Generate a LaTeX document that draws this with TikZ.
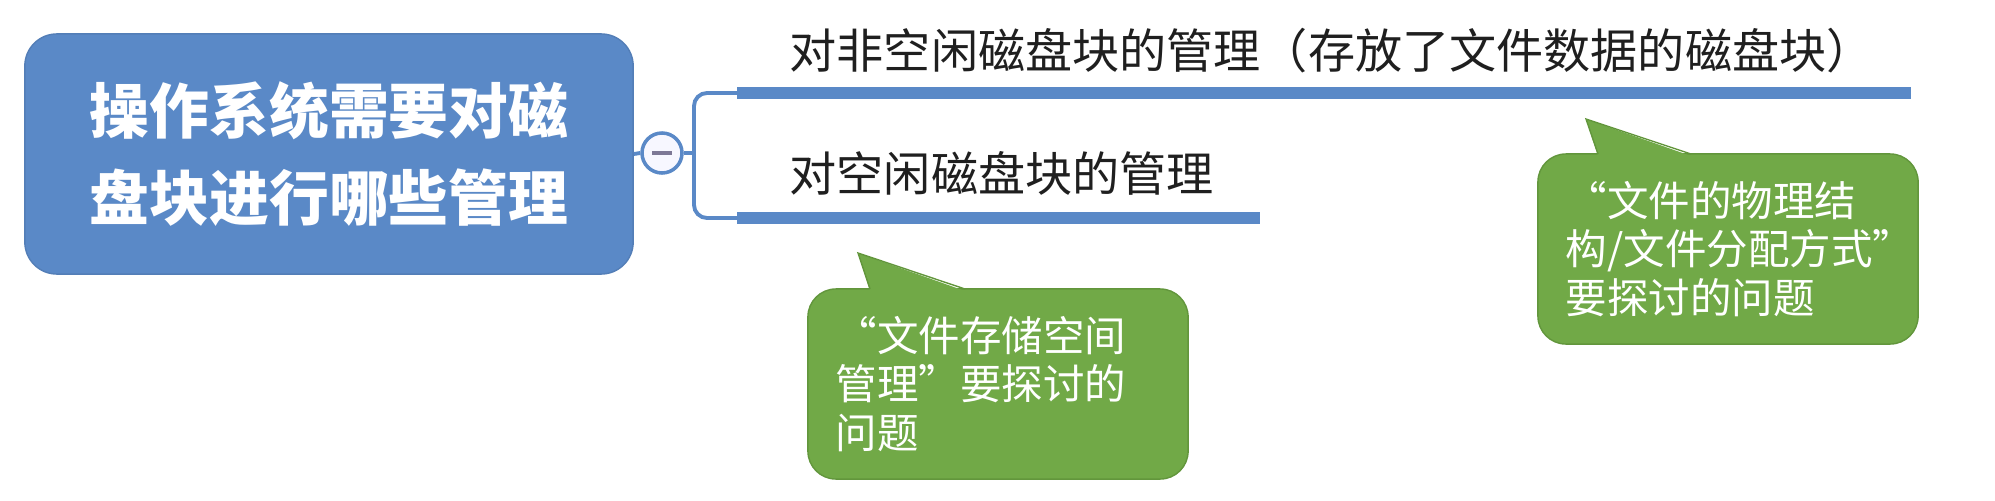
\documentclass[tikz,border=0pt]{standalone}
\usepackage{fontspec}
\setmainfont{Noto Sans CJK SC}
\usepackage{xcolor}
\usepackage{tikz}
\usetikzlibrary{calc, positioning}

\definecolor{mapblue}{RGB}{90,137,199}
\definecolor{notegreen}{RGB}{113,169,71}
\definecolor{noteedge}{RGB}{98,150,60}
\definecolor{foldgray}{RGB}{125,120,150}

\tikzset{
    rootbox/.style={fill=mapblue, draw=mapblue!92!black, rounded corners=0.32cm,
        text=white, align=center, minimum width=6.08cm, minimum height=2.4cm,
        font=\fontsize{17}{24.5}\selectfont\bfseries},
    foldmark/.style={circle, draw=mapblue, line width=1pt, fill=blue!3,
        minimum size=0.4cm, inner sep=0pt},
    branch/.style={draw=mapblue, line width=1.1pt},
    topicbar/.style={draw=mapblue, line width=3.4pt},
    topic/.style={anchor=west, inner sep=0pt, text=black!88,
        font=\fontsize{13.4}{16}\selectfont},
    notebox/.style={fill=notegreen, draw=noteedge, rounded corners=0.28cm,
        text=white, align=left, text width=3.24cm, inner xsep=0.28cm,
        minimum width=3.8cm, minimum height=1.9cm,
        font=\fontsize{11.8}{13.7}\selectfont},
}

\begin{document}
\begin{tikzpicture}[x=0.01cm, y=-0.01cm]
    \useasboundingbox (0,0) rectangle (1995,500);

    % Chủ đề chính
    \node[rootbox] (root) at (329,154) {操作系统需要对磁\\盘块进行哪些管理};
    \node[foldmark] (fold) at (662,153) {};
    \draw[foldgray, line width=0.9pt] ($(fold)+(-10,0)$) -- ($(fold)+(10,0)$);

    % Nhánh
    \coordinate (hub) at (694,153);
    \coordinate (nf) at (737,93);
    \coordinate (fr) at (737,218);
    \draw[branch] (root.east) -- (fold.west);
    \draw[branch] (fold.east) -- (hub);
    \draw[branch, rounded corners=0.13cm] (nf) -| (hub) |- (fr);
    \draw[topicbar] (nf) -- (1911,93);
    \draw[topicbar] (fr) -- (1260,218);
    \node[topic] (nonfree) at (789,51) {对非空闲磁盘块的管理（存放了文件数据的磁盘块）};
    \node[topic] (free) at (789,173) {对空闲磁盘块的管理};

    % Ghi chú
    \node[notebox] (note1) at (998,384) {“文件存储空间\\管理”要探讨的\\问题};
    \fill[notegreen] (870,291) -- (858,253) -- (965,291) -- cycle;
    \draw[noteedge] (870,289) -- (858,253) -- (965,289);

    \node[notebox] (note2) at (1728,249) {“文件的物理结\\构/文件分配方式”\\要探讨的问题};
    \fill[notegreen] (1598,156) -- (1586,119) -- (1691,156) -- cycle;
    \draw[noteedge] (1598,154) -- (1586,119) -- (1691,154);
\end{tikzpicture}
\end{document}
